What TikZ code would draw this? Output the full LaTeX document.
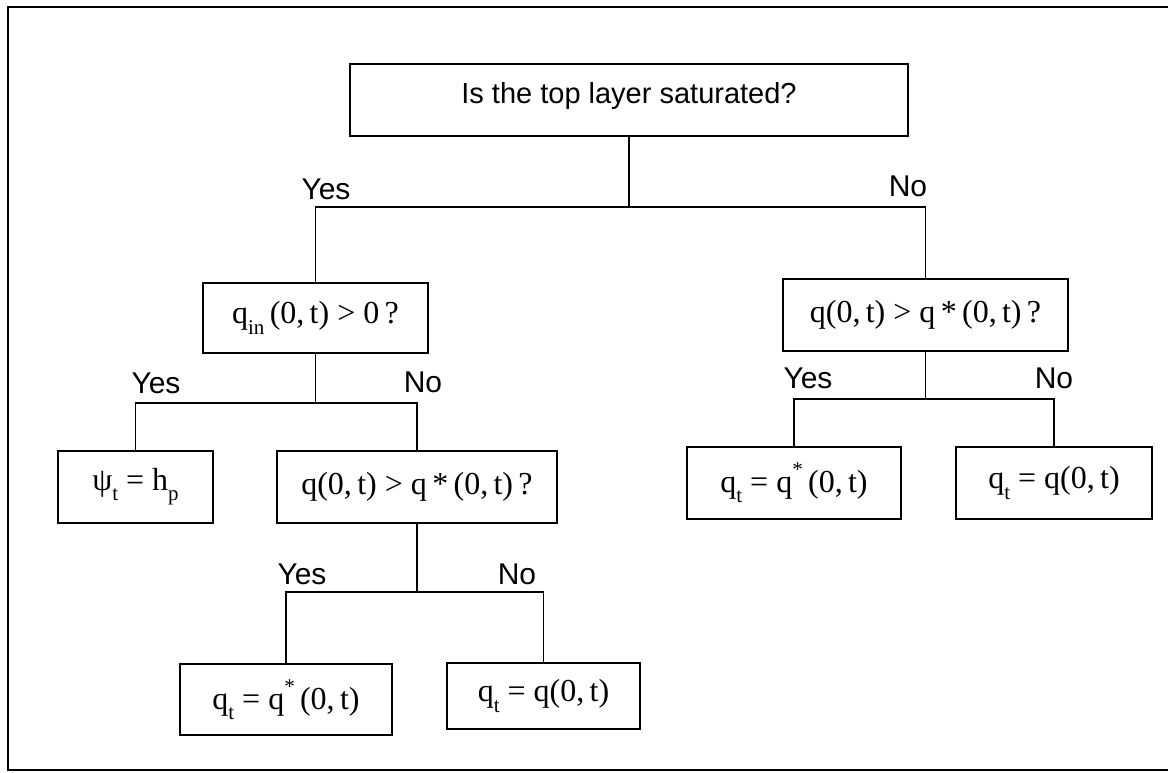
\documentclass[tikz,border=0pt]{standalone}
\usepackage{fontspec}
\setmainfont{Liberation Serif}
\newfontfamily\sansf{Liberation Sans}
\newcommand\sbs[1]{\raisebox{-0.32em}{\fontsize{21}{21}\selectfont #1}}
\newcommand\sps[1]{\raisebox{0.5em}{\fontsize{21}{21}\selectfont #1}}
\begin{document}
\begin{tikzpicture}[x=1pt,y=-1pt,
  box/.style={draw,line width=1.5pt,inner sep=0pt,font=\fontsize{32}{38}\selectfont},
  qbox/.style={box},
  tbox/.style={box,font=\sansf\fontsize{29}{34}\selectfont},
  lab/.style={font=\sansf\fontsize{30}{34}\selectfont,inner sep=0pt},
  conn/.style={line width=1.5pt}]
\useasboundingbox (0,0) rectangle (1168,772);
% frame
\draw[line width=1.6pt] (1168,7) -- (8,7) -- (8,770) -- (1168,770);
% boxes
\node[tbox,minimum width=558pt,minimum height=72pt,text depth=14pt] (top) at (629,100) {Is the top layer saturated?};
\node[qbox,minimum width=225pt,minimum height=70pt] (qin) at (315.5,318) {q\sbs{in}\,(0,\,t) > 0\,?};
\node[qbox,minimum width=285pt,minimum height=72pt] (rq) at (925.5,315) {q(0,\,t) > q\,*\,(0,\,t)\,?};
\node[qbox,minimum width=155pt,minimum height=72pt] (psi) at (135.5,487) {ψ\sbs{t} = h\sbs{p}};
\node[qbox,minimum width=280pt,minimum height=72pt] (lq) at (417,487) {q(0,\,t) > q\,*\,(0,\,t)\,?};
\node[qbox,minimum width=214pt,minimum height=72pt] (rr1) at (794,483) {q\sbs{t} = q\sps{*}\,(0,\,t)};
\node[qbox,minimum width=196pt,minimum height=72pt] (rr2) at (1054,483) {q\sbs{t} = q(0,\,t)};
\node[qbox,minimum width=212pt,minimum height=71pt] (bl1) at (286,699.5) {q\sbs{t} = q\sps{*}\,(0,\,t)};
\node[qbox,minimum width=193pt,minimum height=66pt] (bl2) at (543.5,696) {q\sbs{t} = q(0,\,t)};
% junctions
\coordinate (j1) at (629,207);
\coordinate (j2) at (315.5,403);
\coordinate (j3) at (925.5,399);
\coordinate (j4) at (417,592);
% connectors
\draw[conn] (top.south) -- (j1);
\draw[conn] (qin.north) |- (j1) -| (rq.north);
\draw[conn] (qin.south) -- (j2);
\draw[conn] (psi.north) |- (j2) -| (lq.north);
\draw[conn] (rq.south) -- (j3);
\draw[conn] (rr1.north) |- (j3) -| (rr2.north);
\draw[conn] (lq.south) -- (j4);
\draw[conn] (bl1.north) |- (j4) -| (bl2.north);
% labels
\node[lab] (y1) at (326,189) {Yes};
\node[lab] (n1) at (908,186) {No};
\node[lab] (y2) at (156,383) {Yes};
\node[lab] (n2) at (423,382) {No};
\node[lab] (y3) at (808,378) {Yes};
\node[lab] (n3) at (1054,378) {No};
\node[lab] (y4) at (302,574) {Yes};
\node[lab] (n4) at (517,574) {No};
\end{tikzpicture}
\end{document}
